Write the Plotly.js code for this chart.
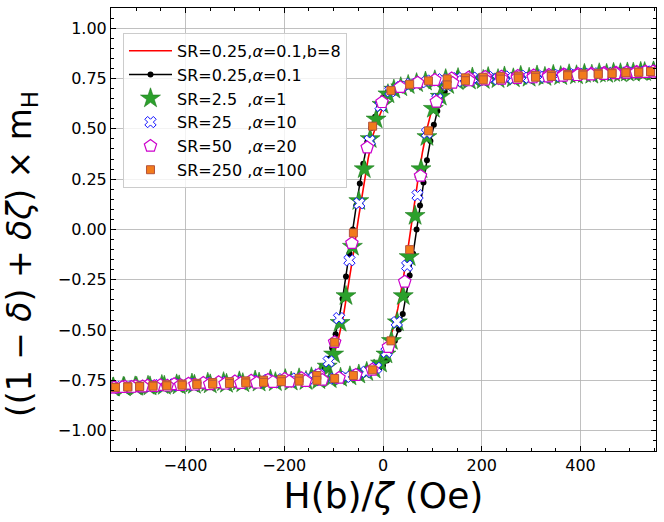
<!DOCTYPE html>
<html>
<head>
<meta charset="utf-8">
<script src="https://cdn.plot.ly/plotly-3.0.1.min.js"></script>
<style>
  html, body { margin: 0; padding: 0; background: #fff; }
  #plot { width: 664px; height: 522px; }
</style>
</head>
<body>
<div id="plot"></div>
<script>
// SR=0.25, alpha=0.1, b=8 (rote Linie)
const redHDown = [550,450,350,250,200,150,120,100,80,60,40,25,10,0,-10,-20,-30,-40,-50,-60,-70,-80,-90,-100,-110,-120,-140,-170,-200,-250,-350,-450,-550];
const redMDown = [0.785,0.777,0.769,0.760,0.756,0.751,0.745,0.738,0.731,0.721,0.707,0.693,0.660,0.608,0.547,0.470,0.353,0.212,0.051,-0.119,-0.282,-0.426,-0.540,-0.628,-0.685,-0.713,-0.731,-0.739,-0.745,-0.752,-0.764,-0.774,-0.785];
const redHUp = [-550,-450,-350,-250,-200,-150,-120,-100,-80,-60,-40,-25,-10,0,10,20,30,40,50,60,70,80,90,100,110,120,140,170,200,250,350,450,550];
const redMUp = [-0.785,-0.777,-0.769,-0.760,-0.756,-0.751,-0.745,-0.739,-0.732,-0.723,-0.709,-0.696,-0.669,-0.626,-0.566,-0.496,-0.393,-0.260,-0.104,0.068,0.234,0.385,0.509,0.606,0.670,0.707,0.729,0.739,0.745,0.751,0.763,0.774,0.785];

// SR=0.25, alpha=0.1 (schwarz mit Punkten)
const blackHDown = [550,500,450,400,350,300,250,200,160,130,105,85,65,50,38,27,17,8,0,-8,-16,-24,-32,-40,-47,-54,-61,-68,-75,-82,-89,-96,-103,-110,-118,-127,-138,-152,-170,-195,-225,-260,-300,-345,-395,-450,-500,-550];
const blackMDown = [0.785,0.781,0.777,0.773,0.769,0.764,0.760,0.756,0.753,0.748,0.743,0.736,0.728,0.720,0.711,0.702,0.693,0.678,0.655,0.608,0.560,0.504,0.433,0.327,0.228,0.120,0.000,-0.119,-0.234,-0.344,-0.440,-0.520,-0.588,-0.642,-0.685,-0.711,-0.726,-0.732,-0.737,-0.744,-0.748,-0.753,-0.757,-0.762,-0.768,-0.774,-0.779,-0.785];
const blackHUp = [-550,-500,-450,-400,-350,-300,-250,-200,-160,-130,-105,-85,-65,-50,-38,-27,-17,-8,0,8,16,24,32,40,47,54,61,68,75,82,89,96,103,110,117,125,134,145,160,180,205,235,270,310,355,405,460,515,550];
const blackMUp = [-0.785,-0.781,-0.777,-0.773,-0.769,-0.764,-0.760,-0.756,-0.753,-0.749,-0.745,-0.738,-0.731,-0.724,-0.716,-0.708,-0.700,-0.692,-0.675,-0.650,-0.602,-0.553,-0.496,-0.420,-0.327,-0.228,-0.120,0.000,0.119,0.234,0.344,0.440,0.520,0.588,0.642,0.685,0.711,0.726,0.733,0.740,0.747,0.753,0.758,0.763,0.768,0.773,0.778,0.782,0.785];

// SR=2.5, alpha=1 (Sterne)
const starHDown = [548,522,495,467,438,408,377,345,312,279,246,213,181,152,127,105,86,68,51,36,22,10,-2,-14,-26,-38,-49,-62,-75,-87,-100,-113,-127,-145,-170,-198,-228,-259,-291,-323,-355,-387,-418,-448,-476,-502,-526,-546];
const starMDown = [0.785,0.783,0.780,0.778,0.776,0.773,0.771,0.768,0.765,0.763,0.760,0.757,0.755,0.752,0.747,0.741,0.735,0.727,0.718,0.707,0.695,0.672,0.620,0.547,0.450,0.300,0.142,-0.085,-0.330,-0.463,-0.620,-0.680,-0.718,-0.734,-0.739,-0.743,-0.746,-0.750,-0.754,-0.758,-0.761,-0.765,-0.769,-0.772,-0.776,-0.779,-0.781,-0.784];
const starHUp = [-547,-524,-499,-472,-443,-413,-382,-350,-317,-284,-251,-218,-186,-156,-130,-107,-86,-67,-49,-33,-18,-5,6,17,29,41,53,65,77,89,102,116,131,150,175,203,233,264,296,328,360,392,423,453,481,507,530,548];
const starMUp = [-0.785,-0.783,-0.781,-0.779,-0.776,-0.774,-0.771,-0.769,-0.766,-0.763,-0.760,-0.758,-0.755,-0.752,-0.748,-0.743,-0.736,-0.729,-0.720,-0.707,-0.695,-0.665,-0.620,-0.553,-0.460,-0.330,-0.136,0.068,0.300,0.460,0.600,0.660,0.718,0.737,0.740,0.743,0.747,0.751,0.754,0.758,0.762,0.766,0.769,0.773,0.776,0.779,0.782,0.784];

// SR=25, alpha=10 (Kreuze)
const crossHDown = [545,520,494,466,437,407,376,344,311,278,245,212,180,150,120,98,77,56,36,15,-5,-27,-48,-68,-89,-110,-130,-151,-175,-203,-233,-264,-296,-328,-360,-392,-423,-453,-481,-507,-530,-548];
const crossMDown = [0.785,0.783,0.780,0.778,0.776,0.773,0.771,0.768,0.765,0.763,0.760,0.757,0.754,0.752,0.746,0.740,0.732,0.723,0.708,0.687,0.614,0.440,0.130,-0.153,-0.440,-0.655,-0.720,-0.737,-0.740,-0.743,-0.747,-0.751,-0.754,-0.758,-0.762,-0.766,-0.769,-0.773,-0.776,-0.779,-0.782,-0.784];
const crossHUp = [-547,-525,-500,-473,-445,-415,-384,-352,-319,-286,-253,-220,-187,-156,-126,-98,-76,-55,-34,-14,7,28,49,70,89,110,130,150,175,203,233,264,296,328,360,392,423,453,481,507,530,548];
const crossMUp = [-0.785,-0.783,-0.781,-0.779,-0.776,-0.774,-0.771,-0.769,-0.766,-0.763,-0.760,-0.758,-0.755,-0.752,-0.747,-0.740,-0.732,-0.723,-0.707,-0.687,-0.608,-0.460,-0.180,0.170,0.480,0.648,0.718,0.737,0.740,0.743,0.747,0.751,0.754,0.758,0.762,0.766,0.769,0.773,0.776,0.779,0.782,0.784];

// SR=50, alpha=20 (Fuenfecke)
const pentHDown = [548,532,514,494,472,448,422,395,366,336,305,273,240,207,173,139,105,70,35,-2,-32,-63,-98,-131,-165,-199,-233,-267,-300,-333,-364,-394,-423,-451,-477,-501,-523,-543];
const pentMDown = [0.785,0.784,0.782,0.780,0.779,0.777,0.774,0.772,0.770,0.767,0.765,0.762,0.759,0.757,0.754,0.750,0.742,0.729,0.707,0.632,0.407,-0.068,-0.560,-0.722,-0.739,-0.743,-0.747,-0.751,-0.755,-0.759,-0.762,-0.766,-0.769,-0.773,-0.776,-0.779,-0.781,-0.784];
const pentHUp = [-545,-528,-509,-487,-463,-437,-410,-381,-351,-320,-288,-256,-223,-190,-157,-123,-89,-55,-22,11,44,76,108,141,174,207,240,272,304,335,365,394,421,447,471,493,513,531,547];
const pentMUp = [-0.785,-0.783,-0.782,-0.780,-0.778,-0.776,-0.773,-0.771,-0.769,-0.766,-0.763,-0.761,-0.758,-0.755,-0.753,-0.747,-0.737,-0.723,-0.697,-0.584,-0.260,0.266,0.634,0.728,0.740,0.744,0.748,0.752,0.755,0.759,0.763,0.766,0.769,0.772,0.775,0.778,0.780,0.782,0.784];

// SR=250, alpha=100 (Quadrate) - beide Aeste bei gleichen H-Werten
const sqH = [542,518,492,464,436,405,374,341,309,274,238,203,167,130,92,54,16,-21,-60,-98,-134,-170,-206,-242,-278,-311,-345,-377,-407,-438,-466,-493,-517,-542];
const sqMDown = [0.784,0.782,0.780,0.778,0.776,0.773,0.770,0.768,0.765,0.762,0.759,0.756,0.753,0.748,0.738,0.721,0.690,0.513,-0.017,-0.560,-0.725,-0.739,-0.744,-0.748,-0.752,-0.756,-0.760,-0.764,-0.768,-0.771,-0.775,-0.778,-0.781,-0.784];
const sqMUp = [0.784,0.781,0.778,0.774,0.771,0.767,0.764,0.760,0.756,0.752,0.747,0.743,0.739,0.718,0.490,-0.100,-0.553,-0.697,-0.725,-0.740,-0.749,-0.753,-0.756,-0.759,-0.762,-0.765,-0.768,-0.770,-0.773,-0.776,-0.778,-0.780,-0.782,-0.784];

const xTicks = [-400, -200, 0, 200, 400];
const yTicks = [-1.0, -0.75, -0.5, -0.25, 0, 0.25, 0.5, 0.75, 1.0];

const FONT = 'DejaVu Sans, sans-serif';
const NB = '\u00a0';

function loop(hDown, mDown, hUp, mUp) {
  return { x: hDown.concat(hUp), y: mDown.concat(mUp) };
}

const red = loop(redHDown, redMDown, redHUp, redMUp);
const black = loop(blackHDown, blackMDown, blackHUp, blackMUp);
const star = loop(starHDown, starMDown, starHUp, starMUp);
const cross = loop(crossHDown, crossMDown, crossHUp, crossMUp);
const pent = loop(pentHDown, pentMDown, pentHUp, pentMUp);
const sq = loop(sqH, sqMDown, sqH, sqMUp);

const traces = [
  {
    x: red.x, y: red.y, mode: 'lines',
    name: 'SR=0.25,<i>α</i>=0.1,b=8',
    line: { color: '#ff0000', width: 1.6 }
  },
  {
    x: black.x, y: black.y, mode: 'lines+markers',
    name: 'SR=0.25,<i>α</i>=0.1',
    line: { color: '#000000', width: 1.5 },
    marker: { symbol: 'circle', size: 6, color: '#000000' }
  },
  {
    x: star.x, y: star.y, mode: 'markers',
    name: 'SR=2.5' + NB + NB + ',<i>α</i>=1',
    marker: { symbol: 'star', size: 15, color: '#2ca02c', line: { color: '#1d7a1d', width: 0.6 } }
  },
  {
    x: cross.x, y: cross.y, mode: 'markers',
    name: 'SR=25' + NB + NB + NB + ',<i>α</i>=10',
    marker: { symbol: 'x', size: 10, color: '#ffffff', line: { color: '#1010ff', width: 1 } }
  },
  {
    x: pent.x, y: pent.y, mode: 'markers',
    name: 'SR=50' + NB + NB + NB + ',<i>α</i>=20',
    marker: { symbol: 'pentagon', size: 13, color: '#ffffff', line: { color: '#cc00cc', width: 1.2 } }
  },
  {
    x: sq.x, y: sq.y, mode: 'markers',
    name: 'SR=250' + NB + ',<i>α</i>=100',
    marker: { symbol: 'square', size: 8, color: '#f27b1c', line: { color: '#b5533c', width: 1 } }
  }
];

const axisCommon = {
  showline: true, linecolor: '#000', linewidth: 1, mirror: 'allticks',
  ticks: 'inside', ticklen: 5, tickwidth: 1, tickcolor: '#000',
  showgrid: true, gridcolor: '#b0b0b0', gridwidth: 0.8,
  zeroline: false,
  tickfont: { family: FONT, size: 16, color: '#000' }
};

const layout = {
  width: 664, height: 522,
  paper_bgcolor: '#ffffff', plot_bgcolor: '#ffffff',
  margin: { l: 111, r: 8, t: 8, b: 71 },
  font: { family: FONT, color: '#000' },
  xaxis: Object.assign({}, axisCommon, {
    range: [-551, 553],
    tickmode: 'array', tickvals: xTicks,
    minor: { dtick: 50, ticks: 'inside', ticklen: 3, tickcolor: '#000', showgrid: false },
    title: { text: 'H(b)/<i>ζ</i> (Oe)', font: { family: FONT, size: 36 }, standoff: 0 }
  }),
  yaxis: Object.assign({}, axisCommon, {
    range: [-1.1, 1.1],
    tickmode: 'array', tickvals: yTicks, tickformat: '.2f',
    minor: { dtick: 0.05, ticks: 'inside', ticklen: 3, tickcolor: '#000', showgrid: false }
  }),
  annotations: [{
    xref: 'paper', yref: 'paper',
    x: -0.163, y: 0.445, xanchor: 'center', yanchor: 'middle',
    textangle: -90, showarrow: false,
    text: '((1 − <i>δ</i>) + <i>δζ</i>) × m<sub>H</sub>',
    font: { family: FONT, size: 33, color: '#000' }
  }],
  showlegend: true,
  legend: {
    x: 0.022, y: 0.944, xanchor: 'left', yanchor: 'top',
    bgcolor: 'rgba(255,255,255,0.8)', bordercolor: '#cccccc', borderwidth: 1,
    font: { family: FONT, size: 16, color: '#000' },
    itemwidth: 43
  }
};

Plotly.newPlot('plot', traces, layout, { displayModeBar: false, staticPlot: true });
</script>
</body>
</html>
